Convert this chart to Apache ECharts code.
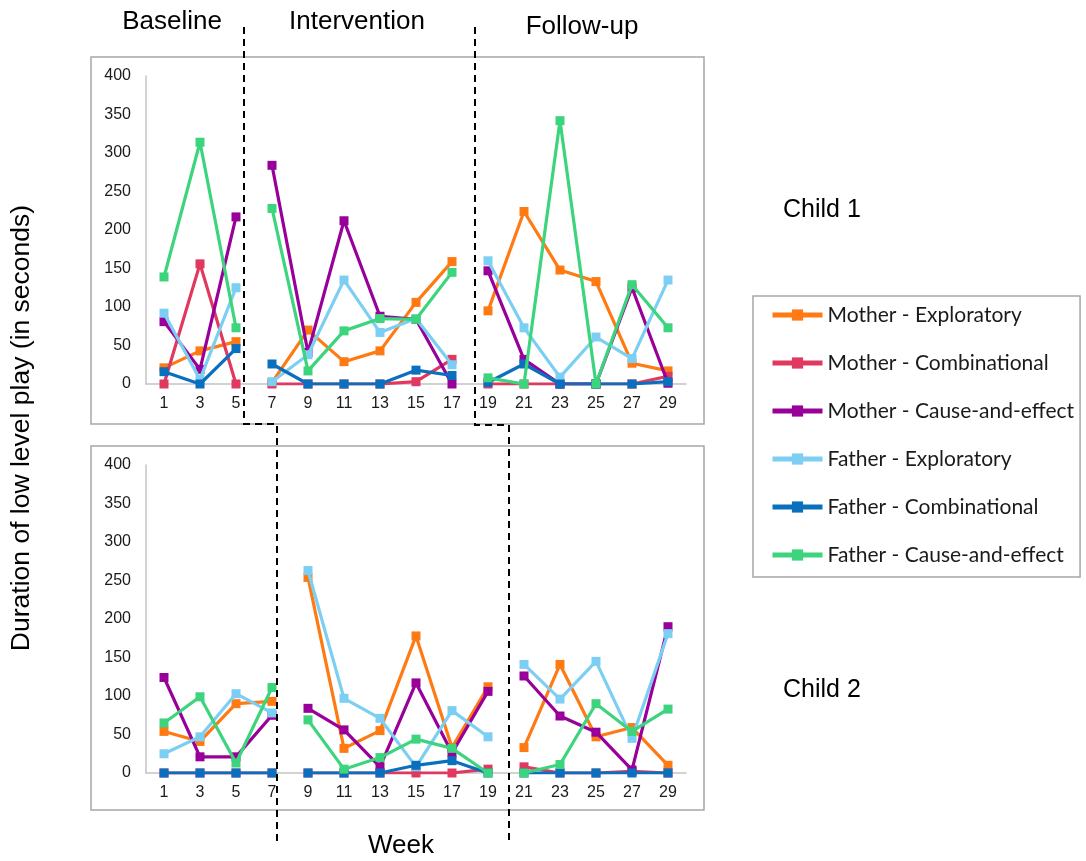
<!DOCTYPE html>
<html>
<head>
<meta charset="utf-8">
<style>
  html, body { margin: 0; padding: 0; background: #ffffff; }
  #chart { width: 1086px; height: 861px; }
</style>
<script src="https://cdn.jsdelivr.net/npm/echarts@6/dist/echarts.min.js"></script>
</head>
<body>
<div id="chart"></div>
<script>
// Weeks shown on both panels
const weeks = ['1', '3', '5', '7', '9', '11', '13', '15', '17', '19', '21', '23', '25', '27', '29'];
const yTicks = [0, 50, 100, 150, 200, 250, 300, 350, 400];

const seriesNames = [
  'Mother - Exploratory',
  'Mother - Combinational',
  'Mother - Cause-and-effect',
  'Father - Exploratory',
  'Father - Combinational',
  'Father - Cause-and-effect'
];
const seriesColors = ['#FF7A12', '#E0385E', '#990099', '#7CCFF2', '#0A70BE', '#3CD47C'];

// Child 1: duration of low level play (seconds) per week
const child1MotherExploratory = [21, 43, 55, 2, 70, 29, 43, 106, 159, 95, 224, 148, 133, 27, 17];
const child1MotherCombinational = [0, 156, 0, 0, 0, 0, 0, 3, 32, 0, 0, 0, 0, 0, 10];
const child1MotherCauseEffect = [81, 19, 217, 284, 41, 212, 88, 84, 0, 147, 32, 0, 0, 125, 1];
const child1FatherExploratory = [92, 6, 125, 3, 38, 135, 67, 85, 25, 160, 73, 9, 61, 33, 135];
const child1FatherCombinational = [16, 0, 46, 26, 0, 0, 0, 18, 11, 2, 26, 0, 0, 0, 3];
const child1FatherCauseEffect = [139, 314, 73, 228, 17, 69, 85, 84, 145, 8, 0, 342, 0, 129, 73];

// Child 2: duration of low level play (seconds) per week
const child2MotherExploratory = [54, 41, 90, 93, 254, 32, 55, 178, 33, 112, 33, 141, 47, 59, 10];
const child2MotherCombinational = [0, 0, 0, 0, 0, 0, 0, 0, 0, 5, 8, 0, 0, 2, 0];
const child2MotherCauseEffect = [124, 21, 21, 75, 84, 56, 8, 117, 26, 106, 126, 74, 53, 4, 190];
const child2FatherExploratory = [25, 47, 103, 78, 263, 97, 71, 8, 81, 47, 141, 96, 145, 45, 181];
const child2FatherCombinational = [0, 0, 0, 0, 0, 0, 0, 10, 16, 0, 0, 0, 0, 0, 0];
const child2FatherCauseEffect = [65, 99, 13, 111, 69, 5, 20, 44, 32, 0, 0, 11, 90, 54, 83];

// Phase ranges (first and last week index) for each child
const child1Phases = [[0, 2], [3, 8], [9, 14]];
const child2Phases = [[0, 3], [4, 9], [10, 14]];

const child1Data = [child1MotherExploratory, child1MotherCombinational, child1MotherCauseEffect,
  child1FatherExploratory, child1FatherCombinational, child1FatherCauseEffect];
const child2Data = [child2MotherExploratory, child2MotherCombinational, child2MotherCauseEffect,
  child2FatherExploratory, child2FatherCombinational, child2FatherCauseEffect];

const FONT = '"Liberation Sans", Arial, sans-serif';

// One line segment per phase so the lines break between phases
function buildSeries(dataSets, phases, gridIndex) {
  const out = [];
  dataSets.forEach((values, i) => {
    phases.forEach(([a, b]) => {
      out.push({
        name: seriesNames[i],
        type: 'line',
        xAxisIndex: gridIndex,
        yAxisIndex: gridIndex,
        data: values.map((v, k) => (k >= a && k <= b ? v : '-')),
        connectNulls: false,
        symbol: 'rect',
        symbolSize: 9,
        showSymbol: true,
        lineStyle: { width: 3.2, color: seriesColors[i] },
        itemStyle: { color: seriesColors[i] },
        z: 2 + i,
        emphasis: { disabled: true }
      });
    });
  });
  return out;
}

function xAxisFor(gridIndex) {
  return {
    type: 'category',
    gridIndex: gridIndex,
    data: weeks,
    boundaryGap: true,
    axisLine: { show: true, lineStyle: { color: '#c4c4c4', width: 1.5 } },
    axisTick: { show: false },
    axisLabel: { fontFamily: FONT, fontSize: 16, color: '#1a1a1a', margin: 12, interval: 0 },
    splitLine: { show: false }
  };
}

function yAxisFor(gridIndex) {
  return {
    type: 'value',
    gridIndex: gridIndex,
    min: yTicks[0],
    max: yTicks[yTicks.length - 1],
    interval: yTicks[1] - yTicks[0],
    axisLine: { show: true, lineStyle: { color: '#c4c4c4', width: 1.5 } },
    axisTick: { show: false },
    axisLabel: { fontFamily: FONT, fontSize: 16, color: '#1a1a1a', margin: 15 },
    splitLine: { show: false }
  };
}

const dash = { stroke: '#000', lineWidth: 2, lineDash: [7, 5], fill: null };

const option = {
  animation: false,
  backgroundColor: '#ffffff',
  grid: [
    { left: 146, width: 540, top: 76, height: 308 },
    { left: 146, width: 540, top: 465, height: 308 }
  ],
  xAxis: [xAxisFor(0), xAxisFor(1)],
  yAxis: [yAxisFor(0), yAxisFor(1)],
  legend: {
    data: seriesNames,
    orient: 'vertical',
    left: 753,
    top: 296,
    padding: [7, 6, 10, 17],
    itemGap: 24,
    itemWidth: 50,
    itemHeight: 14,
    borderColor: '#a6a6a6',
    borderWidth: 1.5,
    lineStyle: { width: 5 },
    textStyle: { fontFamily: 'Lato, "Liberation Sans", sans-serif', fontSize: 21, color: '#1a1a1a', lineHeight: 24 },
    selectedMode: false
  },
  series: buildSeries(child1Data, child1Phases, 0).concat(buildSeries(child2Data, child2Phases, 1)),
  graphic: [
    // panel frames
    { type: 'rect', shape: { x: 91, y: 57, width: 613, height: 367 }, style: { fill: null, stroke: '#a6a6a6', lineWidth: 1.5 }, silent: true, z: 0 },
    { type: 'rect', shape: { x: 91, y: 446, width: 613, height: 364 }, style: { fill: null, stroke: '#a6a6a6', lineWidth: 1.5 }, silent: true, z: 0 },
    // phase dividers
    { type: 'polyline', shape: { points: [[244, 27], [244, 424], [277, 424], [277, 842]] }, style: dash, silent: true, z: 10 },
    { type: 'polyline', shape: { points: [[475, 27], [475, 425], [509, 425], [509, 842]] }, style: dash, silent: true, z: 10 },
    // phase headings
    { type: 'text', x: 172, y: 22, style: { text: 'Baseline', font: '26px ' + FONT, fill: '#000', align: 'center', verticalAlign: 'middle' }, silent: true },
    { type: 'text', x: 357, y: 22, style: { text: 'Intervention', font: '26px ' + FONT, fill: '#000', align: 'center', verticalAlign: 'middle' }, silent: true },
    { type: 'text', x: 582, y: 27, style: { text: 'Follow-up', font: '26px ' + FONT, fill: '#000', align: 'center', verticalAlign: 'middle' }, silent: true },
    // panel labels
    { type: 'text', x: 783, y: 210, style: { text: 'Child 1', font: '25px ' + FONT, fill: '#000', align: 'left', verticalAlign: 'middle' }, silent: true },
    { type: 'text', x: 783, y: 690, style: { text: 'Child 2', font: '25px ' + FONT, fill: '#000', align: 'left', verticalAlign: 'middle' }, silent: true },
    // axis titles
    { type: 'text', x: 401, y: 846, style: { text: 'Week', font: '26px ' + FONT, fill: '#000', align: 'center', verticalAlign: 'middle' }, silent: true },
    { type: 'text', x: 22, y: 428, rotation: Math.PI / 2, style: { text: 'Duration of low level play (in seconds)', font: '26.5px ' + FONT, fill: '#000', align: 'center', verticalAlign: 'middle' }, silent: true }
  ]
};

const chart = echarts.init(document.getElementById('chart'), null, { renderer: 'canvas' });
chart.setOption(option);
</script>
</body>
</html>
